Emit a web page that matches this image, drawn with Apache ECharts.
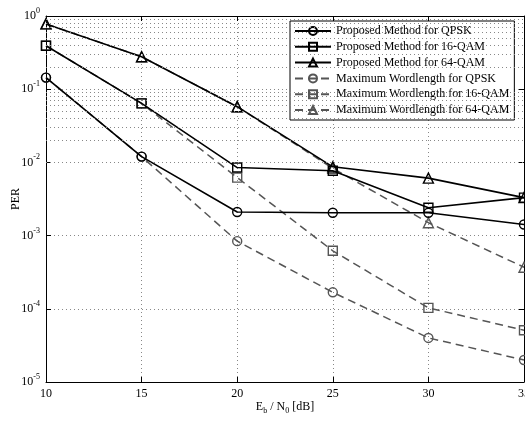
<!DOCTYPE html>
<html><head><meta charset="utf-8">
<script src="https://cdn.jsdelivr.net/npm/echarts@6/dist/echarts.min.js"></script>
<style>html,body{margin:0;padding:0;background:#fff}#c{width:525px;height:421px}</style>
</head><body><div id="c"></div>
<script>
const snr = [10, 15, 20, 25, 30, 35];
const propQPSK = [0.144, 0.012, 0.0021, 0.00205, 0.00205, 0.00142];
const prop16 = [0.393, 0.064, 0.0085, 0.0077, 0.0024, 0.0033];
const prop64 = [0.78, 0.278, 0.0577, 0.0087, 0.0061, 0.0033];
const maxQPSK = [0.144, 0.012, 0.00084, 0.000168, 0.00004, 0.00002];
const max16 = [0.393, 0.064, 0.0062, 0.00062, 0.000103, 0.000051];
const max64 = [0.78, 0.278, 0.0577, 0.0083, 0.0015, 0.00037];
const names = ['Proposed Method for QPSK','Proposed Method for 16-QAM','Proposed Method for 64-QAM',
  'Maximum Wordlength for QPSK','Maximum Wordlength for 16-QAM','Maximum Wordlength for 64-QAM'];
const minorVals = [];
for (let e = -5; e < 0; e++) for (let m = 2; m <= 9; m++) minorVals.push(m * Math.pow(10, e));

const F = 'Liberation Serif, Times New Roman, serif';
function mk(name, vals, sym, dashed) {
  const col = dashed ? '#555' : '#000';
  return {
    name, type: 'line', data: snr.map((x, i) => [x, vals[i]]),
    symbol: sym, symbolSize: sym === 'triangle' ? 10 : 9,
    lineStyle: {color: col, width: dashed ? 1.5 : 1.6, type: dashed ? [8, 5] : 'solid'},
    itemStyle: {color: 'transparent', borderColor: col, borderWidth: 1.4},
    emphasis: {disabled: true}, z: dashed ? 3 : 4
  };
}
const series = [
  mk(names[0], propQPSK, 'circle', false),
  mk(names[1], prop16, 'rect', false),
  mk(names[2], prop64, 'triangle', false),
  mk(names[3], maxQPSK, 'circle', true),
  mk(names[4], max16, 'rect', true),
  mk(names[5], max64, 'triangle', true),
  {type: 'line', data: [], silent: true, markLine: {silent: true, symbol: 'none', label: {show: false},
    lineStyle: {color: '#888', type: [1, 3], width: 1}, data: minorVals.map(v => ({yAxis: v}))}}
];
const chart = echarts.init(document.getElementById('c'));
chart.setOption({
  animation: false,
  backgroundColor: '#fff',
  textStyle: {fontFamily: F},
  grid: {left: 46, right: 1, top: 16, bottom: 39, containLabel: false, outerBoundsMode: 'none'},
  legend: {
    data: names, orient: 'vertical', left: 290, top: 21,
    itemWidth: 36, itemHeight: 10, itemGap: 3.8,
    backgroundColor: '#fff', borderColor: '#000', borderWidth: 1,
    padding: [4, 5, 4, 4],
    textStyle: {fontFamily: F, fontSize: 12, color: '#000'}
  },
  xAxis: [{
    type: 'value', min: 10, max: 35, interval: 5,
    axisLine: {onZero: false, lineStyle: {color: '#000'}},
    axisTick: {inside: true, length: 5, lineStyle: {color: '#000'}},
    axisLabel: {color: '#000', fontFamily: F, fontSize: 12, margin: 6},
    splitLine: {show: true, lineStyle: {color: '#888', type: [1, 3]}},
    name: '{n|E}{sub|b}{n| / N}{sub|0}{n| [dB]}', nameLocation: 'middle', nameGap: 17,
    nameMoveOverlap: false,
    nameTextStyle: {rich: {n: {fontFamily: F, fontSize: 12, color: '#000'},
      sub: {fontFamily: F, fontSize: 8, color: '#000', padding: [8, 0, 0, 0]}}}
  }, {
    type: 'value', min: 10, max: 35, interval: 5, position: 'top',
    axisLine: {show: true, onZero: false, lineStyle: {color: '#000'}},
    axisTick: {inside: true, length: 5, lineStyle: {color: '#000'}},
    axisLabel: {show: false}, splitLine: {show: false}
  }],
  yAxis: [{
    type: 'log', min: 1e-5, max: 1, logBase: 10,
    axisLine: {show: true, onZero: false, lineStyle: {color: '#000'}},
    axisTick: {inside: true, length: 5, lineStyle: {color: '#000'}},
    axisLabel: {color: '#000', margin: 6,
      formatter: v => '{b|10}{s|' + Math.round(Math.log10(v)) + '}',
      rich: {b: {fontFamily: F, fontSize: 12, color: '#000'},
        s: {fontFamily: F, fontSize: 8, color: '#000', padding: [0, 0, 10, 0]}}},
    splitLine: {show: true, lineStyle: {color: '#888', type: [1, 3]}},
    name: 'PER', nameLocation: 'middle', nameGap: 24, nameMoveOverlap: false,
    nameTextStyle: {fontFamily: F, fontSize: 12, color: '#000'}
  }, {
    type: 'log', min: 1e-5, max: 1, logBase: 10, position: 'right',
    axisLine: {show: true, onZero: false, lineStyle: {color: '#000'}},
    axisTick: {inside: true, length: 5, lineStyle: {color: '#000'}},
    axisLabel: {show: false}, splitLine: {show: false}
  }],
  series
});
</script></body></html>
